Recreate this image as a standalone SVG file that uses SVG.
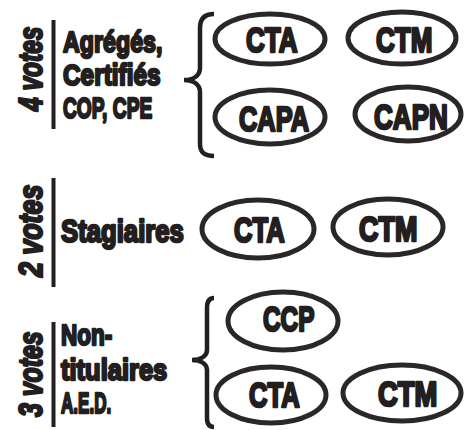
<svg xmlns="http://www.w3.org/2000/svg" width="469" height="430" viewBox="0 0 469 430">
<style>
.t{font-family:"Liberation Sans",Arial,sans-serif;font-weight:bold;fill:#231f20;stroke:#231f20;stroke-width:2.4;stroke-linejoin:round}
.lab{font-size:30px}
.lab2{font-size:31px}
.ov{font-size:35px;stroke-width:2.6}
.ov2{font-size:36px;stroke-width:2.6}
.vote{font-size:34px;font-style:italic}
.ell{fill:none;stroke:#2b2728;stroke-width:5}
.brace{fill:none;stroke:#231f20;stroke-width:4.5;stroke-linecap:butt}
.bar{fill:#231f20}
</style>
<rect width="469" height="430" fill="#ffffff"/>
<g id="section-4votes">
  <text class="t vote" transform="translate(42,111) rotate(-90) scale(0.721,1)">4 votes</text>
  <rect class="bar" x="51.5" y="20" width="4" height="109"/>
  <text class="t lab" transform="translate(63,52) scale(0.775,1)">Agrégés,</text>
  <text class="t lab" transform="translate(63,85) scale(0.813,1)">Certifiés</text>
  <text class="t lab" transform="translate(63,118) scale(0.64,1)">COP, CPE</text>
</g>
<g id="node-cta-1">
  <ellipse class="ell" cx="270" cy="39" rx="55" ry="25"/>
  <text class="t ov" transform="translate(246,52) scale(0.743,1)">CTA</text>
</g>
<g id="node-ctm-1">
  <ellipse class="ell" cx="402" cy="38" rx="54" ry="26"/>
  <text class="t ov" transform="translate(376,52) scale(0.744,1)">CTM</text>
</g>
<g id="node-capa-1">
  <ellipse class="ell" cx="270" cy="117" rx="55" ry="27"/>
  <text class="t ov2" transform="translate(239,131) scale(0.706,1)">CAPA</text>
</g>
<g id="node-capn-1">
  <ellipse class="ell" cx="408" cy="114" rx="53" ry="27"/>
  <text class="t ov2" transform="translate(374,129) scale(0.725,1)">CAPN</text>
</g>
<g id="section-2votes">
  <text class="t vote" transform="translate(42,277) rotate(-90) scale(0.788,1)">2 votes</text>
  <rect class="bar" x="51.5" y="178" width="4" height="109"/>
  <text class="t lab2" transform="translate(61,242) scale(0.830,1)">Stagiaires</text>
</g>
<g id="node-cta-2">
  <ellipse class="ell" cx="258" cy="229" rx="56" ry="29"/>
  <text class="t ov" transform="translate(234,242) scale(0.730,1)">CTA</text>
</g>
<g id="node-ctm-2">
  <ellipse class="ell" cx="388" cy="227" rx="55" ry="28"/>
  <text class="t ov" transform="translate(359,241) scale(0.769,1)">CTM</text>
</g>
<g id="section-3votes">
  <text class="t vote" transform="translate(42,417) rotate(-90) scale(0.730,1)">3 votes</text>
  <rect class="bar" x="51.5" y="322" width="4" height="105"/>
  <text class="t lab" transform="translate(61,345) scale(0.75,1)">Non-</text>
  <text class="t lab" transform="translate(61,380) scale(0.85,1)">titulaires</text>
  <text class="t lab" transform="translate(61,413) scale(0.57,1)">A.E.D.</text>
</g>
<g id="node-ccp-3">
  <ellipse class="ell" cx="283" cy="321" rx="55" ry="29"/>
  <text class="t ov" transform="translate(263,331) scale(0.697,1)">CCP</text>
</g>
<g id="node-cta-3">
  <ellipse class="ell" cx="271" cy="395" rx="55" ry="28"/>
  <text class="t ov" transform="translate(249,407) scale(0.730,1)">CTA</text>
</g>
<g id="node-ctm-3">
  <ellipse class="ell" cx="402" cy="393" rx="59" ry="28"/>
  <text class="t ov" transform="translate(378,406) scale(0.782,1)">CTM</text>
</g>
<g id="connectors">
  <path class="brace" d="M214,14 C204,14 200,19 200,28 L200,68 C200,76 193,80 184,80 C193,80 200,84 200,92 L200,144 C200,152 204,156 214,156"/>
  <path class="brace" d="M214,298 C209,298 207,302 207,308 L207,350 C207,356 201,360 192,360 C201,360 207,364 207,370 L207,418 C207,424 209,427 214,427"/>
</g>
</svg>
